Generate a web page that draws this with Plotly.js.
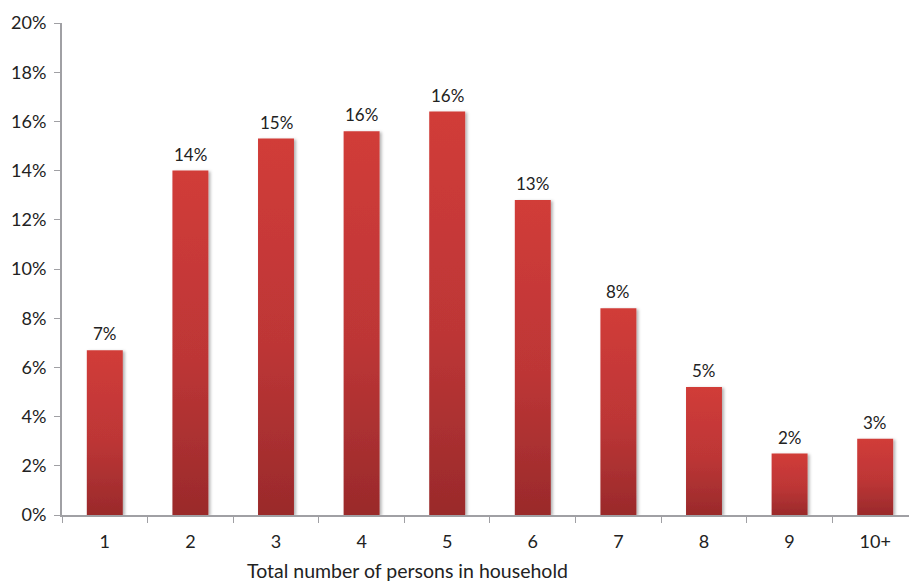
<!DOCTYPE html>
<html>
<head>
<meta charset="utf-8">
<script src="https://cdn.plot.ly/plotly-3.0.1.min.js"></script>
<style>
html,body{margin:0;padding:0;background:#fff;overflow:hidden;}
#chart{width:909px;height:584px;}
</style>
</head>
<body>
<div id="chart"></div>
<script>
const categories = ['1','2','3','4','5','6','7','8','9','10+'];
const shares = [6.7, 14.0, 15.3, 15.6, 16.4, 12.8, 8.4, 5.2, 2.5, 3.1];
const shareLabels = ['7%','14%','15%','16%','16%','13%','8%','5%','2%','3%'];
const yTickValues = [0,2,4,6,8,10,12,14,16,18,20];
const yTickLabels = ['0%','2%','4%','6%','8%','10%','12%','14%','16%','18%','20%'];

const font = 'Lato, "Open Sans", "DejaVu Sans", sans-serif';
const textColor = '#222222';
const axisColor = '#a0a0a4';

const trace = {
  type: 'bar',
  x: categories,
  y: shares,
  marker: {color: '#c0383a', line: {width: 0}},
  hoverinfo: 'none'
};

const annotations = categories.map((c, i) => ({
  x: i, y: shares[i], xref: 'x', yref: 'y',
  text: shareLabels[i], showarrow: false,
  yanchor: 'bottom', yshift: 4,
  font: {family: font, size: 17, color: textColor}
}));
annotations.push({
  xref: 'paper', yref: 'paper', x: 0.408, y: -0.113,
  xanchor: 'center', yanchor: 'middle', showarrow: false,
  text: 'Total number of persons in household',
  font: {family: font, size: 19.5, color: textColor}
});

const layout = {
  width: 909, height: 584,
  margin: {l: 62, r: 0, t: 23, b: 69},
  paper_bgcolor: '#ffffff', plot_bgcolor: '#ffffff',
  showlegend: false,
  bargap: 0.58,
  font: {family: font, size: 18, color: textColor},
  xaxis: {
    type: 'category',
    range: [-0.5, 9.395],
    showline: true, linecolor: axisColor, linewidth: 2,
    ticks: 'outside', tickson: 'boundaries', ticklen: 6, tickcolor: axisColor, tickwidth: 1,
    showgrid: false, zeroline: false,
    tickfont: {family: font, size: 18, color: textColor},
    ticklabelstandoff: 9
  },
  yaxis: {
    range: [0, 20],
    tickvals: yTickValues,
    ticktext: yTickLabels,
    showline: true, linecolor: axisColor, linewidth: 2,
    ticks: 'outside', ticklen: 6, tickcolor: axisColor, tickwidth: 1,
    showgrid: false, zeroline: false,
    tickfont: {family: font, size: 18, color: textColor},
    ticklabelstandoff: 4
  },
  annotations: annotations
};

Plotly.newPlot('chart', [trace], layout, {displayModeBar: false, staticPlot: true}).then(gd => {
  const ns = 'http://www.w3.org/2000/svg';
  const svg = gd.querySelector('svg.main-svg');
  let defs = svg.querySelector('defs');
  if (!defs) { defs = document.createElementNS(ns, 'defs'); svg.insertBefore(defs, svg.firstChild); }
  const grad = document.createElementNS(ns, 'linearGradient');
  grad.setAttribute('id', 'barGrad');
  grad.setAttribute('x1', '0'); grad.setAttribute('y1', '0');
  grad.setAttribute('x2', '0'); grad.setAttribute('y2', '1');
  [['0%', '#d13c39'], ['55%', '#bd3636'], ['100%', '#9a2a2b']].forEach(([o, c]) => {
    const s = document.createElementNS(ns, 'stop');
    s.setAttribute('offset', o); s.setAttribute('stop-color', c);
    grad.appendChild(s);
  });
  defs.appendChild(grad);
  const filt = document.createElementNS(ns, 'filter');
  filt.setAttribute('id', 'barShadow');
  filt.setAttribute('x', '-20%'); filt.setAttribute('y', '-5%');
  filt.setAttribute('width', '150%'); filt.setAttribute('height', '115%');
  const ds = document.createElementNS(ns, 'feDropShadow');
  ds.setAttribute('dx', '2'); ds.setAttribute('dy', '1');
  ds.setAttribute('stdDeviation', '1.5');
  ds.setAttribute('flood-color', '#000'); ds.setAttribute('flood-opacity', '0.3');
  filt.appendChild(ds);
  defs.appendChild(filt);
  gd.querySelectorAll('.barlayer .point path').forEach(p => {
    p.style.fill = 'url(#barGrad)';
    p.setAttribute('filter', 'url(#barShadow)');
  });
});
</script>
</body>
</html>
